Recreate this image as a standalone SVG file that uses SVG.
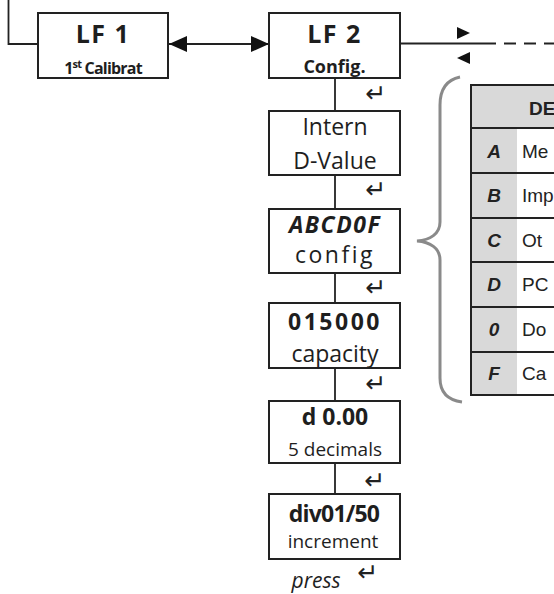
<svg xmlns="http://www.w3.org/2000/svg" width="554" height="594" viewBox="0 0 554 594">
<style>
.box{fill:#fff;stroke:#222;stroke-width:2}
.ln{fill:none;stroke:#222;stroke-width:1.8}
.t{font-family:"Open Sans","DejaVu Sans",sans-serif;fill:#1e1e1e;text-anchor:middle}
.b{font-weight:bold}
.ret{font-family:"DejaVu Sans",sans-serif;font-size:25px;fill:#222;text-anchor:middle}
.tb{font-family:"Liberation Sans",Arial,sans-serif;fill:#222;font-size:19px}
.shade{fill:#d9d9d9}
</style>
<defs>
<marker id="tri" markerUnits="userSpaceOnUse" markerWidth="19" markerHeight="17" refX="18" refY="8" orient="auto-start-reverse" viewBox="0 0 19 17">
<path d="M0,0 L18,8 L0,16 z" fill="#111"/>
</marker>
</defs>
<g id="connectors">
<path class="ln" d="M8.5,0 V44 H38"/>
<line class="ln" x1="169" y1="44" x2="269" y2="44" marker-start="url(#tri)" marker-end="url(#tri)"/>
<line class="ln" x1="400" y1="43.5" x2="484" y2="43.5"/>
<line class="ln" x1="484" y1="43.5" x2="554" y2="43.5" stroke-dasharray="12 8"/>
<polygon points="457,27 470,33 457,39" fill="#111"/>
<polygon points="470,52 457,58 470,64" fill="#111"/>
<line class="ln" x1="335" y1="78" x2="335" y2="111"/>
<line class="ln" x1="335" y1="175" x2="335" y2="209"/>
<line class="ln" x1="335" y1="273" x2="335" y2="303"/>
<line class="ln" x1="335" y1="368" x2="335" y2="401"/>
<line class="ln" x1="335" y1="463" x2="335" y2="494"/>
</g>
<g id="lf1">
<rect class="box" x="38" y="13" width="130" height="65"/>
<text class="t b" x="103" y="43" font-size="25" letter-spacing="1.5">LF 1</text>
<text class="t b" x="103" y="74" font-size="16" letter-spacing="-0.8">1<tspan font-size="11" dy="-6">st</tspan><tspan dy="6"> Calibrat</tspan></text>
</g>
<g id="lf2">
<rect class="box" x="269" y="13" width="131" height="65"/>
<text class="t b" x="334.5" y="43" font-size="25" letter-spacing="1.5">LF 2</text>
<text class="t b" x="334.5" y="73" font-size="18">Config.</text>
</g>
<g id="intern">
<rect class="box" x="269" y="111" width="131" height="64"/>
<text class="t" x="335" y="135" font-size="23">Intern</text>
<text class="t" x="335" y="169" font-size="23">D-Value</text>
</g>
<g id="config">
<rect class="box" x="269" y="209" width="131" height="64"/>
<text class="t b" x="335" y="233" font-size="23" font-style="italic" letter-spacing="1.5">ABCD0F</text>
<text class="t" x="335" y="263" font-size="23" letter-spacing="2.5">config</text>
</g>
<g id="capacity">
<rect class="box" x="269" y="303" width="131" height="65"/>
<text class="t b" x="335" y="330" font-size="23" letter-spacing="2.5">015000</text>
<text class="t" x="335" y="362" font-size="23">capacity</text>
</g>
<g id="decimals">
<rect class="box" x="269" y="401" width="131" height="62"/>
<text class="t b" x="335" y="425" font-size="23">d 0.00</text>
<text class="t" x="335" y="456" font-size="19">5 decimals</text>
</g>
<g id="increment">
<rect class="box" x="269" y="494" width="131" height="65"/>
<text class="t b" x="334" y="522" font-size="23" letter-spacing="-0.8">div01/50</text>
<text class="t" x="333" y="548" font-size="19">increment</text>
</g>
<g id="returns">
<text class="ret" x="376" y="102">↵</text>
<text class="ret" x="376" y="198">↵</text>
<text class="ret" x="376" y="296">↵</text>
<text class="ret" x="376" y="392">↵</text>
<text class="ret" x="375" y="489">↵</text>
<text class="t" x="316" y="588" font-size="21" font-style="italic">press</text>
<text class="ret" x="368" y="581">↵</text>
</g>
<g id="brace">
<path d="M460,77 C446,80 440,90 440,105 L440,222 C440,234 430,240 417,241 C430,242 440,248 440,260 L440,378 C440,392 447,400 462,402" fill="none" stroke="#8a8a8a" stroke-width="3"/>
</g>
<g id="table">
<rect class="shade" x="471" y="85" width="90" height="43"/>
<rect class="shade" x="471" y="128" width="46" height="267"/>
<rect x="517" y="128" width="44" height="267" fill="#fff"/>
<rect x="471" y="85" width="90" height="310" fill="none" stroke="#222" stroke-width="2"/>
<g class="ln">
<line x1="471" y1="128" x2="554" y2="128"/>
<line x1="471" y1="173" x2="554" y2="173"/>
<line x1="471" y1="218" x2="554" y2="218"/>
<line x1="471" y1="262" x2="554" y2="262"/>
<line x1="471" y1="307" x2="554" y2="307"/>
<line x1="471" y1="352" x2="554" y2="352"/>
</g>
<text class="tb" x="529" y="115" font-weight="bold" font-size="18">DE</text>
<g font-weight="bold" font-style="italic">
<text class="tb" x="494" y="158" text-anchor="middle">A</text>
<text class="tb" x="494" y="202" text-anchor="middle">B</text>
<text class="tb" x="494" y="247" text-anchor="middle">C</text>
<text class="tb" x="494" y="291" text-anchor="middle">D</text>
<text class="tb" x="494" y="336" text-anchor="middle">0</text>
<text class="tb" x="494" y="380" text-anchor="middle">F</text>
</g>
<text class="tb" x="522" y="158">Me</text>
<text class="tb" x="522" y="202">Imp</text>
<text class="tb" x="522" y="247">Ot</text>
<text class="tb" x="522" y="291">PC</text>
<text class="tb" x="522" y="336">Do</text>
<text class="tb" x="522" y="380">Ca</text>
</g>
</svg>
